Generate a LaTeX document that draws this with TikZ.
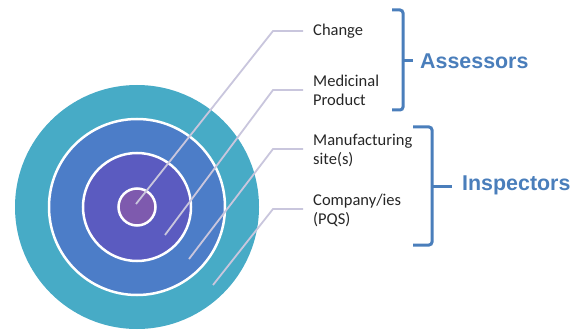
\documentclass[tikz,border=0pt]{standalone}
\usepackage{fontspec}
\newfontfamily\labfont{Carlito}
\newfontfamily\grpfont{Liberation Sans}
\definecolor{ringA}{HTML}{47ABC6}
\definecolor{ringB}{HTML}{4C7DC8}
\definecolor{ringC}{HTML}{5B5BC0}
\definecolor{ringD}{HTML}{7E5AAE}
\definecolor{leader}{HTML}{C9C6DD}
\definecolor{bracecol}{HTML}{4A7EBB}
\definecolor{labcol}{HTML}{262626}
\begin{document}
\begin{tikzpicture}[x=1pt,y=-1pt,
  ring/.style={draw=white,line width=2.5pt},
  leadline/.style={draw=leader,line width=1.8pt},
  bracket/.style={draw=bracecol,line width=3pt,rounded corners=3pt},
  lab/.style={anchor=west,inner sep=0pt,align=left,text=labcol,
    font=\labfont\fontsize{16.5}{19}\selectfont},
  grp/.style={anchor=west,inner sep=0pt,text=bracecol,
    font=\grpfont\bfseries\fontsize{21.4}{24}\selectfont}]
\useasboundingbox (0,0) rectangle (580,331);
% target circles
\fill[ringA] (137,207) circle (122);
\filldraw[ringB,ring] (137,207) circle (88);
\filldraw[ringC,ring] (137,207) circle (54);
\filldraw[ringD,ring] (137,207) circle (18.5);
% labels
\node[lab] (l1) at (313,31) {Change};
\node[lab] (l2) at (313,90) {Medicinal\\Product};
\node[lab] (l3) at (313,150) {Manufacturing\\site(s)};
\node[lab] (l4) at (313,210) {Company/ies\\(PQS)};
% leader lines
\coordinate (s1) at (136,204);
\coordinate (s2) at (165,235);
\coordinate (s3) at (189,259);
\coordinate (s4) at (213,285);
\coordinate (e1) at (303,31);
\coordinate (e2) at (303,90);
\coordinate (e3) at (303,149);
\coordinate (e4) at (303,209);
\draw[leadline] (s1) -- (273,31) -- (e1);
\draw[leadline] (s2) -- (273,90) -- (e2);
\draw[leadline] (s3) -- (273,149) -- (e3);
\draw[leadline] (s4) -- (273,209) -- (e4);
% braces
\coordinate (a1) at (392,10);
\coordinate (a2) at (392,110);
\coordinate (am) at (403,61);
\coordinate (at) at (413,61);
\draw[bracket] (a1) -- (403,10) -- (403,110) -- (a2);
\draw[bracket] (am) -- (at);
\coordinate (b1) at (413,127);
\coordinate (b2) at (413,245);
\coordinate (bm) at (432,186);
\coordinate (bt) at (452,186);
\draw[bracket] (b1) -- (432,127) -- (432,245) -- (b2);
\draw[bracket] (bm) -- (bt);
\node[grp] (g1) at (420,61.5) {Assessors};
\node[grp] (g2) at (462,185.5) {Inspectors};
\end{tikzpicture}
\end{document}
